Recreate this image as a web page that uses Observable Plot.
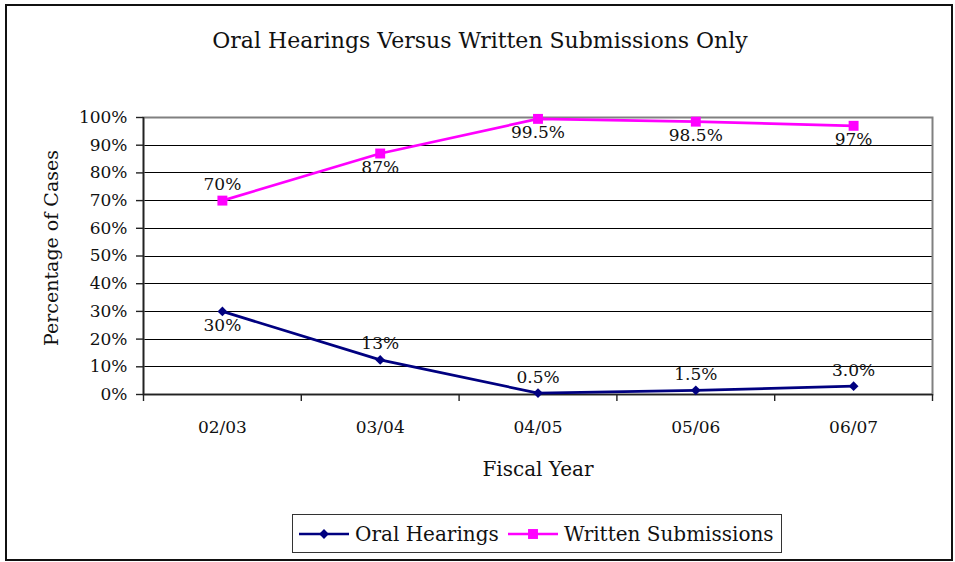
<!DOCTYPE html>
<html><head><meta charset="utf-8">
<script src="https://cdn.jsdelivr.net/npm/d3@7"></script>
<script src="https://cdn.jsdelivr.net/npm/@observablehq/plot@0.6"></script>
<style>
body{margin:0;background:#fff;}
#wrap{position:relative;width:955px;height:562px;overflow:hidden;font-family:"DejaVu Serif",serif;color:#111;}
#frame{position:absolute;left:5px;top:4px;width:944px;height:553px;border:2px solid #111;}
#chart{position:absolute;left:0;top:0;}
#title{position:absolute;left:0;width:960px;top:26px;text-align:center;font-size:22px;line-height:30px;white-space:nowrap;}
#xlabel{position:absolute;left:0;width:1076px;top:455px;text-align:center;font-size:20px;line-height:28px;}
#ylabel{position:absolute;left:51px;top:248px;transform:translate(-50%,-50%) rotate(-90deg);font-size:19px;line-height:28px;white-space:nowrap;}
#legend{position:absolute;left:292px;top:514px;width:490px;height:39px;border:1px solid #333;box-sizing:border-box;font-size:20px;white-space:nowrap;}
#legend .item{position:absolute;top:0;height:37px;display:flex;align-items:center;}
#legend svg{margin-right:6px;}
</style>
</head><body>
<div id="wrap">
  <div id="frame"></div>
  <div id="chart"></div>
  <div id="title"></div>
  <div id="xlabel"></div>
  <div id="ylabel"></div>
  <div id="legend"></div>
</div>
<script>
const chartTitle = "Oral Hearings Versus Written Submissions Only";
const xTitle = "Fiscal Year";
const yTitle = "Percentage of Cases";
const categories = ["02/03", "03/04", "04/05", "05/06", "06/07"];
const seriesNames = ["Oral Hearings", "Written Submissions"];
const seriesColors = ["#000080", "#FF00FF"];
const oralHearings = [0.30, 0.125, 0.005, 0.015, 0.03];
const writtenSubmissions = [0.70, 0.87, 0.995, 0.985, 0.97];
const oralLabels = ["30%", "13%", "0.5%", "1.5%", "3.0%"];
const writtenLabels = ["70%", "87%", "99.5%", "98.5%", "97%"];
const oralLabelSide = ["below", "above", "above", "above", "above"];
const writtenLabelSide = ["above", "below", "below", "below", "below"];
const yTicks = [0, 0.1, 0.2, 0.3, 0.4, 0.5, 0.6, 0.7, 0.8, 0.9, 1.0];

const rows = categories.flatMap((c, i) => [
  {i, category: c, series: seriesNames[0], value: oralHearings[i], label: oralLabels[i], side: oralLabelSide[i]},
  {i, category: c, series: seriesNames[1], value: writtenSubmissions[i], label: writtenLabels[i], side: writtenLabelSide[i]}
]);
const catIdx = categories.map((c, i) => i + 0.5);
const boundaries = d3.range(categories.length + 1);
const font = '"DejaVu Serif",serif';
const xpos = d => d.i + 0.5;

const plot = Plot.plot({
  width: 955, height: 562,
  marginLeft: 143, marginRight: 23, marginTop: 117, marginBottom: 168,
  style: {fontFamily: font, fontSize: "17px", color: "#111", background: "transparent"},
  x: {type: "linear", domain: [0, categories.length], axis: null},
  y: {domain: [0, 1], axis: null},
  color: {domain: seriesNames, range: seriesColors},
  marks: [
    Plot.ruleY(yTicks.slice(1, -1), {stroke: "#000", strokeWidth: 1, shapeRendering: "crispEdges"}),
    Plot.frame({stroke: "#808080", strokeWidth: 2}),
    Plot.ruleY([0], {stroke: "#222", strokeWidth: 1.6}),
    Plot.ruleX([0], {stroke: "#222", strokeWidth: 1.6}),
    Plot.axisY({ticks: yTicks, tickFormat: d3.format(".0%"), tickSize: 7, tickPadding: 9, stroke: "#222", strokeWidth: 1.4, fontSize: 17, label: null}),
    Plot.axisX({ticks: boundaries, tickSize: 7, tickFormat: () => "", stroke: "#222", strokeWidth: 1.4, label: null}),
    Plot.axisX({ticks: catIdx, tickSize: 0, tickPadding: 26, tickFormat: v => categories[Math.round(v - 0.5)], fontSize: 17, label: null}),
    Plot.line(rows, {x: xpos, y: "value", z: "series", stroke: "series", strokeWidth: 2.7}),
    Plot.dot(rows.filter(d => d.series === seriesNames[0]), {x: xpos, y: "value", fill: "series", symbol: () => d3.symbolDiamond2, r: 4.4, stroke: null}),
    Plot.dot(rows.filter(d => d.series === seriesNames[1]), {x: xpos, y: "value", fill: "series", symbol: () => d3.symbolSquare, r: 5.6, stroke: null}),
    Plot.text(rows.filter(d => d.side === "above"), {x: xpos, y: "value", text: "label", dy: -16, fill: "#111", fontSize: 17}),
    Plot.text(rows.filter(d => d.side === "below"), {x: xpos, y: "value", text: "label", dy: 14, fill: "#111", fontSize: 17})
  ]
});
document.getElementById("chart").appendChild(plot);
document.getElementById("title").textContent = chartTitle;
document.getElementById("xlabel").textContent = xTitle;
document.getElementById("ylabel").textContent = yTitle;

const legend = document.getElementById("legend");
const itemLeft = [6, 215];
seriesNames.forEach((name, k) => {
  const item = document.createElement("div");
  item.className = "item";
  item.style.left = itemLeft[k] + "px";
  const sw = d3.create("svg").attr("width", 50).attr("height", 14);
  sw.append("line").attr("x1", 0).attr("x2", 50).attr("y1", 7).attr("y2", 7).attr("stroke", seriesColors[k]).attr("stroke-width", 2.6);
  const sym = k === 0 ? d3.symbol(d3.symbolDiamond2, Math.PI * 4.4 * 4.4) : d3.symbol(d3.symbolSquare, Math.PI * 5.6 * 5.6);
  sw.append("path").attr("d", sym()).attr("transform", "translate(25,7)").attr("fill", seriesColors[k]);
  item.appendChild(sw.node());
  const t = document.createElement("span");
  t.textContent = name;
  item.appendChild(t);
  legend.appendChild(item);
});
</script>
</body></html>
